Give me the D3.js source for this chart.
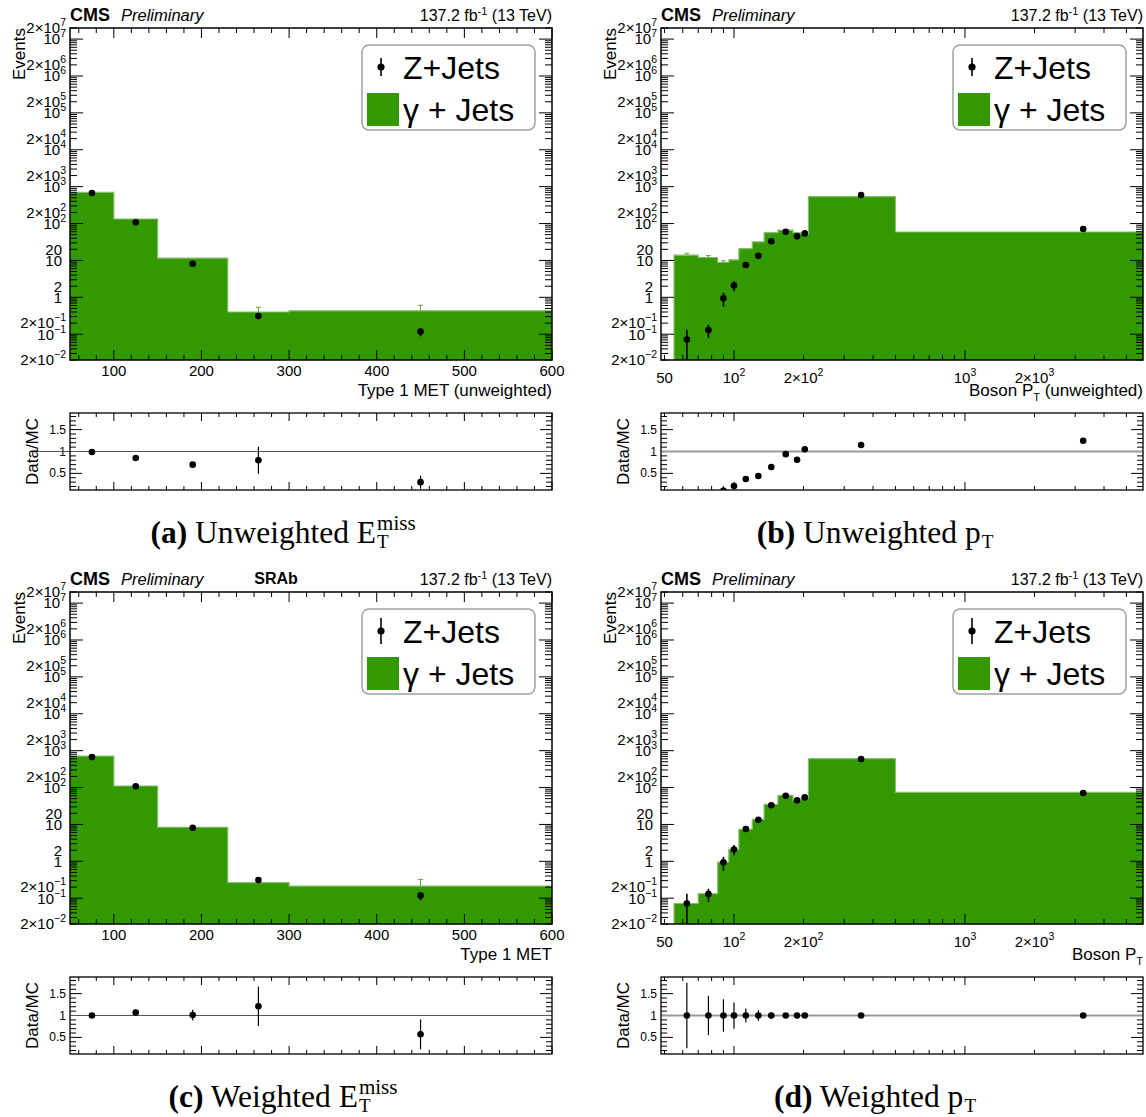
<!DOCTYPE html>
<html><head><meta charset="utf-8">
<script src="https://cdn.jsdelivr.net/npm/d3@7"></script>
<style>
body{margin:0;background:#fff}
svg text{font-family:"Liberation Sans",Arial,Helvetica,sans-serif;white-space:pre}
</style>
</head><body>
<svg id="chart" width="1146" height="1117"></svg>
<script>
// ---------------- DATA ----------------
const metBinEdges = [50, 100, 150, 230, 300, 600];
const zjetsMet = [670, 108, 8.1, 0.31, 0.118];
const zjetsMetErr = [8, 3, 0.9, 0.04, 0.03];
const gjetsMetUnw = [700, 133, 11.5, 0.40, 0.43];
const gjetsMetUnwErr = [10, 3, 0.8, 0.14, 0.18];
const ratioMetUnw = [0.99, 0.85, 0.70, 0.80, 0.30];
const ratioMetUnwErr = [0.02, 0.03, 0.04, 0.31, 0.15];
const gjetsMetW = [714, 110, 8.4, 0.265, 0.214];
const gjetsMetWErr = [10, 3, 0.6, 0.03, 0.11];
const ratioMetW = [1.0, 1.07, 1.01, 1.21, 0.57];
const ratioMetWErr = [0.03, 0.04, 0.12, 0.45, 0.34];

const ptBinEdges = [55, 70, 85, 95, 105, 120, 135, 155, 180, 195, 210, 500, 6000];
const zjetsPt = [0.072, 0.13, 0.94, 2.1, 7.5, 13.3, 33, 60, 45, 54, 595, 71];
const zjetsPtErr = [0.06, 0.05, 0.38, 0.65, 1.1, 1.5, 2.5, 3.5, 3, 3.5, 10, 4];
const gjetsPtUnw = [13.9, 12, 8.8, 10.4, 21, 32, 57, 66, 57, 52, 540, 59];
const gjetsPtUnwErr = [1.8, 1.5, 1.0, 1.0, 1.5, 2, 3, 3, 3, 3, 10, 3];
const ratioPtUnw = [0.005, 0.011, 0.107, 0.21, 0.37, 0.44, 0.645, 0.94, 0.81, 1.05, 1.15, 1.245];
const ratioPtUnwErr = [0.005, 0.005, 0.04, 0.06, 0.05, 0.05, 0.05, 0.05, 0.05, 0.06, 0.03, 0.05];
const gjetsPtW = [0.072, 0.134, 0.95, 2.1, 7.4, 13.7, 35, 61, 45, 52, 610, 74];
const gjetsPtWErr = [0.01, 0.02, 0.1, 0.2, 0.5, 0.8, 1.5, 2, 2, 2, 8, 3];
const ratioPtW = [1, 1, 1, 1, 1, 1, 1, 1, 1, 1, 1, 1];
const ratioPtWErr = [0.75, 0.45, 0.37, 0.30, 0.16, 0.12, 0.08, 0.06, 0.06, 0.05, 0.03, 0.06];

const yDomain = [0.02, 2e7];
const metDomain = [50, 600];
const ptDomain = [48.3, 5900];
const ratioDomain = [0.12, 1.88];

const yTickValues = [0.02, 0.1, 0.2, 1, 2, 10, 20, 1e2, 2e2, 1e3, 2e3, 1e4, 2e4, 1e5, 2e5, 1e6, 2e6, 1e7, 2e7];
const yTickLabels = ["2×10^−2","10^−1","2×10^−1","1","2","10","20","10^2","2×10^2","10^3","2×10^3","10^4","2×10^4","10^5","2×10^5","10^6","2×10^6","10^7","2×10^7"];
const metTickValues = [100, 200, 300, 400, 500, 600];
const metTickLabels = ["100", "200", "300", "400", "500", "600"];
const ptTickValues = [50, 100, 200, 1000, 2000];
const ptTickLabels = ["50", "10^2", "2×10^2", "10^3", "2×10^3"];
const ratioTickValues = [0.5, 1, 1.5];
const ratioTickLabels = ["0.5", "1", "1.5"];

const legendLabels = ["Z+Jets", "γ + Jets"];

// ---------------- DRAW ----------------
const svg = d3.select('#chart');
const defs = svg.append('defs');
const GREEN = '#339900';

function addRich(t, str, supSize, supDy) {
  const parts = str.split('^');
  t.append('tspan').text(parts[0]);
  if (parts.length > 1) t.append('tspan').attr('font-size', supSize).attr('dy', -supDy).text(parts[1]);
}

const panels = [
  {key:'a', ox:0, oy:0, log:false, edges:metBinEdges, mc:gjetsMetUnw, mcErr:gjetsMetUnwErr,
   data:zjetsMet, dataErr:zjetsMetErr, ratio:ratioMetUnw, ratioErr:ratioMetUnwErr,
   xTitle:'Type 1 MET (unweighted)', lineExt:40, lineColor:'#555', lineW:1.2, tag:null,
   cap:{lab:'(a)', txt:' Unweighted E', sup:'miss', sub:'T'}, legBar:9},
  {key:'b', ox:591, oy:0, log:true, edges:ptBinEdges, mc:gjetsPtUnw, mcErr:gjetsPtUnwErr,
   data:zjetsPt, dataErr:zjetsPtErr, ratio:ratioPtUnw, ratioErr:ratioPtUnwErr,
   xTitle:'Boson P^T^ (unweighted)', lineExt:0, lineColor:'#999', lineW:2, tag:null,
   cap:{lab:'(b)', txt:' Unweighted p', sub:'T'}, legBar:9},
  {key:'c', ox:0, oy:564, log:false, edges:metBinEdges, mc:gjetsMetW, mcErr:gjetsMetWErr,
   data:zjetsMet, dataErr:zjetsMetErr, ratio:ratioMetW, ratioErr:ratioMetWErr,
   xTitle:'Type 1 MET', lineExt:0, lineColor:'#555', lineW:1.2, tag:'SRAb',
   cap:{lab:'(c)', txt:' Weighted E', sup:'miss', sub:'T'}, legBar:13},
  {key:'d', ox:591, oy:564, log:true, edges:ptBinEdges, mc:gjetsPtW, mcErr:gjetsPtWErr,
   data:zjetsPt, dataErr:zjetsPtErr, ratio:ratioPtW, ratioErr:ratioPtWErr,
   xTitle:'Boson P^T^', lineExt:0, lineColor:'#999', lineW:2, tag:null,
   cap:{lab:'(d)', txt:' Weighted p', sub:'T'}, legBar:13},
];

function drawPanel(p) {
  const L = 70 + p.ox, R = 552 + p.ox, T = 28 + p.oy, B = 360 + p.oy;
  const RT = 413 + p.oy, RB = 490 + p.oy;
  const x = p.log ? d3.scaleLog().domain(ptDomain).range([L, R])
                  : d3.scaleLinear().domain(metDomain).range([L, R]);
  const y = d3.scaleLog().domain(yDomain).range([B, T]);
  const yr = d3.scaleLinear().domain(ratioDomain).range([RB, RT]);
  const g = svg.append('g');

  const cid = 'clip-' + p.key, rid = 'clipr-' + p.key;
  defs.append('clipPath').attr('id', cid).append('rect').attr('x', L).attr('y', T).attr('width', R - L).attr('height', B - T);
  defs.append('clipPath').attr('id', rid).append('rect').attr('x', L).attr('y', RT).attr('width', R - L).attr('height', RB - RT);

  // header
  g.append('text').attr('x', L).attr('y', T - 7).attr('font-size', 18).attr('font-weight', 'bold').text('CMS');
  g.append('text').attr('x', L + 51).attr('y', T - 7).attr('font-size', 16.5).attr('font-style', 'italic').text('Preliminary');
  const lt = g.append('text').attr('x', R).attr('y', T - 7).attr('font-size', 16).attr('text-anchor', 'end');
  lt.append('tspan').text('137.2 fb');
  lt.append('tspan').attr('font-size', 11).attr('dy', -6).text('-1');
  lt.append('tspan').attr('dy', 6).text(' (13 TeV)');
  if (p.tag) g.append('text').attr('x', L + 206).attr('y', T - 8).attr('font-size', 16).attr('font-weight', 'bold').attr('text-anchor', 'middle').text(p.tag);

  // histogram
  const n = p.mc.length;
  const pts = [[x(p.edges[0]), B]];
  for (let i = 0; i < n; i++) {
    pts.push([x(p.edges[i]), y(p.mc[i])]);
    pts.push([x(p.edges[i + 1]), y(p.mc[i])]);
  }
  pts.push([x(p.edges[n]), B]);
  const hg = g.append('g').attr('clip-path', `url(#${cid})`);
  hg.append('path').attr('d', d3.line()(pts) + 'Z').attr('fill', GREEN);
  hg.append('path').attr('d', d3.line()(pts)).attr('fill', 'none').attr('stroke', '#86bb6c').attr('stroke-width', 1.2);

  const centers = p.edges.slice(0, -1).map((e, i) => (e + p.edges[i + 1]) / 2);
  // MC error tees
  centers.forEach((c, i) => {
    const cx = x(c), y1 = y(p.mc[i] + p.mcErr[i]), y0 = y(p.mc[i]);
    if (y0 - y1 < 1.5) return;
    hg.append('line').attr('x1', cx).attr('x2', cx).attr('y1', y1).attr('y2', y0).attr('stroke', '#5aa83a').attr('stroke-width', 1);
    hg.append('line').attr('x1', cx - 2.5).attr('x2', cx + 2.5).attr('y1', y1).attr('y2', y1).attr('stroke', '#5aa83a').attr('stroke-width', 1);
  });
  // data points
  centers.forEach((c, i) => {
    const cx = x(c);
    const lo = Math.max(p.data[i] - p.dataErr[i], yDomain[0] * 0.5);
    hg.append('line').attr('x1', cx).attr('x2', cx).attr('y1', y(p.data[i] + p.dataErr[i])).attr('y2', y(lo))
      .attr('stroke', '#000').attr('stroke-width', 1.6);
    hg.append('circle').attr('cx', cx).attr('cy', y(p.data[i])).attr('r', 3.3).attr('fill', '#000');
  });

  // frame
  g.append('rect').attr('x', L).attr('y', T).attr('width', R - L).attr('height', B - T).attr('fill', 'none').attr('stroke', '#000').attr('stroke-width', 1.5);

  // y ticks (log)
  const tk = g.append('g').attr('stroke', '#000').attr('stroke-width', 1);
  for (let e = -2; e <= 7; e++) {
    for (let k = 1; k <= 9; k++) {
      const v = k * Math.pow(10, e);
      if (v < yDomain[0] * 0.999 || v > yDomain[1] * 1.001) continue;
      const len = k === 1 ? 13 : 7, yy = y(v);
      tk.append('line').attr('x1', L).attr('x2', L + len).attr('y1', yy).attr('y2', yy);
      tk.append('line').attr('x1', R - len).attr('x2', R).attr('y1', yy).attr('y2', yy);
    }
  }
  // y labels
  yTickValues.forEach((v, i) => {
    const lab = yTickLabels[i];
    const hasExp = lab.indexOf('^') >= 0;
    const t = g.append('text').attr('x', hasExp ? L - 4 : L - 8).attr('y', y(v) + 5.3)
      .attr('font-size', 15).attr('text-anchor', 'end');
    addRich(t, lab, 10.5, 7);
  });
  // Events title
  g.append('text').attr('transform', `translate(${L - 45},${T}) rotate(-90)`).attr('font-size', 17).attr('text-anchor', 'end').text('Events');

  // x ticks
  const xt = [];
  if (p.log) {
    for (let e = 1; e <= 3; e++) for (let k = 1; k <= 9; k++) {
      const v = k * Math.pow(10, e);
      if (v >= ptDomain[0] && v <= ptDomain[1]) xt.push([v, k === 1]);
    }
  } else {
    for (let v = 60; v <= 600; v += 20) xt.push([v, v % 100 === 0]);
  }
  xt.forEach(([v, maj]) => {
    const xx = x(v), len = maj ? 10 : 5;
    tk.append('line').attr('x1', xx).attr('x2', xx).attr('y1', B).attr('y2', B - len);
    tk.append('line').attr('x1', xx).attr('x2', xx).attr('y1', T).attr('y2', T + len);
    const rl = maj ? 8 : 4;
    tk.append('line').attr('x1', xx).attr('x2', xx).attr('y1', RB).attr('y2', RB - rl);
    tk.append('line').attr('x1', xx).attr('x2', xx).attr('y1', RT).attr('y2', RT + rl);
  });
  // x labels
  const xv = p.log ? ptTickValues : metTickValues, xl = p.log ? ptTickLabels : metTickLabels;
  xv.forEach((v, i) => {
    const t = g.append('text').attr('x', x(v)).attr('y', B + (p.log ? 23 : 16)).attr('font-size', 15).attr('text-anchor', 'middle');
    addRich(t, xl[i], 10.5, 7);
  });
  // x title
  const xtt = g.append('text').attr('x', R).attr('y', B + 36).attr('font-size', 17).attr('text-anchor', 'end');
  const tparts = p.xTitle.split('^');
  xtt.append('tspan').text(tparts[0]);
  if (tparts.length > 1) {
    xtt.append('tspan').attr('font-size', 11).attr('dy', 5).text(tparts[1]);
    if (tparts[2]) xtt.append('tspan').attr('dy', -5).text(tparts[2]);
  }

  // legend
  const lg = g.append('g');
  lg.append('rect').attr('x', L + 292).attr('y', T + 17).attr('width', 173).attr('height', 85).attr('rx', 7)
    .attr('fill', '#fff').attr('stroke', '#a0a0a0').attr('stroke-width', 1.5);
  lg.append('line').attr('x1', L + 311).attr('x2', L + 311).attr('y1', T + 39 - p.legBar).attr('y2', T + 39 + p.legBar).attr('stroke', '#000').attr('stroke-width', 1.6);
  lg.append('circle').attr('cx', L + 311).attr('cy', T + 39).attr('r', 3.6).attr('fill', '#000');
  lg.append('rect').attr('x', L + 297).attr('y', T + 65).attr('width', 32).attr('height', 33).attr('fill', GREEN);
  lg.append('text').attr('x', L + 333).attr('y', T + 50.5).attr('font-size', 32).text(legendLabels[0]);
  lg.append('text').attr('x', L + 333).attr('y', T + 92.5).attr('font-size', 32).text(legendLabels[1]);

  // ---- ratio pad ----
  g.append('line').attr('x1', L - p.lineExt).attr('x2', R).attr('y1', yr(1)).attr('y2', yr(1))
    .attr('stroke', p.lineColor).attr('stroke-width', p.lineW);
  const rg = g.append('g').attr('clip-path', `url(#${rid})`);
  centers.forEach((c, i) => {
    const v = p.ratio[i];
    if (v < ratioDomain[0] - 0.02 || v > ratioDomain[1]) return;
    const cx = x(c);
    rg.append('line').attr('x1', cx).attr('x2', cx).attr('y1', yr(v + p.ratioErr[i])).attr('y2', yr(v - p.ratioErr[i]))
      .attr('stroke', '#000').attr('stroke-width', 1.2);
    rg.append('circle').attr('cx', cx).attr('cy', yr(v)).attr('r', 3.3).attr('fill', '#000');
  });
  g.append('rect').attr('x', L).attr('y', RT).attr('width', R - L).attr('height', RB - RT).attr('fill', 'none').attr('stroke', '#000').attr('stroke-width', 1.3);
  for (let k = 2; k <= 18; k++) {
    const v = k / 10, yy = yr(v), maj = (k % 5 === 0), len = maj ? 12 : 6;
    tk.append('line').attr('x1', L).attr('x2', L + len).attr('y1', yy).attr('y2', yy);
    tk.append('line').attr('x1', R - len).attr('x2', R).attr('y1', yy).attr('y2', yy);
  }
  ratioTickValues.forEach((v, i) => {
    g.append('text').attr('x', L - 4).attr('y', yr(v) + 4).attr('font-size', 12).attr('text-anchor', 'end').text(ratioTickLabels[i]);
  });
  g.append('text').attr('transform', `translate(${L - 32},${(RT + RB) / 2}) rotate(-90)`).attr('font-size', 17)
    .attr('text-anchor', 'middle').text('Data/MC');

  // caption
  const cg = g.append('g');
  const SERIF = '"Liberation Serif","DejaVu Serif",serif';
  const base = 543 + p.oy;
  const ct = cg.append('text').attr('x', 0).attr('y', base).attr('font-size', 31.5).style('font-family', SERIF);
  ct.append('tspan').attr('font-weight', 'bold').text(p.cap.lab);
  ct.append('tspan').text(p.cap.txt);
  const w = ct.node().getComputedTextLength();
  let extra = 0;
  if (p.cap.sup) {
    const s = cg.append('text').attr('x', w + 1).attr('y', base - 13).attr('font-size', 21).style('font-family', SERIF).text(p.cap.sup);
    extra = Math.max(extra, s.node().getComputedTextLength() + 1);
  }
  if (p.cap.sub) {
    const s = cg.append('text').attr('x', w + 1).attr('y', base + 5).attr('font-size', 19).style('font-family', SERIF).text(p.cap.sub);
    extra = Math.max(extra, s.node().getComputedTextLength() + 1);
  }
  const cx = p.ox === 0 ? 283 : 875;
  cg.attr('transform', `translate(${cx - (w + extra) / 2},0)`);
}

panels.forEach(drawPanel);
</script>
</body></html>
